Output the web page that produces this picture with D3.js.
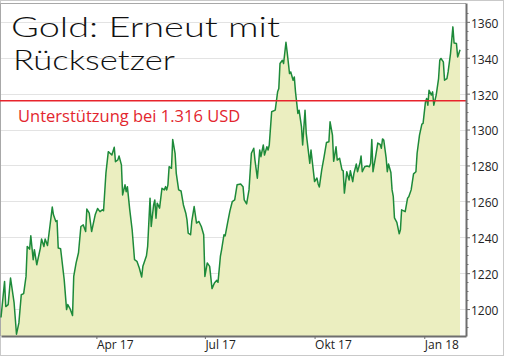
<!DOCTYPE html>
<html>
<head>
<meta charset="utf-8">
<script src="https://cdn.jsdelivr.net/npm/d3@7"></script>
<style>
  body { margin: 0; background: #fff; }
  svg { display: block; }
</style>
</head>
<body>
<div class="chart"></div>
<script>
// gold price, daily-ish closes
const dates = [
  "2017-01-11","2017-01-14","2017-01-15","2017-01-17","2017-01-19","2017-01-22","2017-01-24","2017-01-26","2017-01-28","2017-01-30",
  "2017-02-01","2017-02-02","2017-02-04","2017-02-05","2017-02-07","2017-02-08","2017-02-10","2017-02-13","2017-02-14","2017-02-16",
  "2017-02-17","2017-02-19","2017-02-21","2017-02-23","2017-02-24","2017-02-26","2017-02-27","2017-02-28","2017-03-02","2017-03-05",
  "2017-03-07","2017-03-08","2017-03-10","2017-03-12","2017-03-13","2017-03-15","2017-03-17","2017-03-19","2017-03-21","2017-03-23",
  "2017-03-24","2017-03-26","2017-03-28","2017-03-31","2017-04-02","2017-04-04","2017-04-06","2017-04-07","2017-04-09","2017-04-11",
  "2017-04-12","2017-04-14","2017-04-16","2017-04-17","2017-04-19","2017-04-20","2017-04-22","2017-04-23","2017-04-25","2017-04-26",
  "2017-04-27","2017-04-29","2017-05-01","2017-05-03","2017-05-05","2017-05-07","2017-05-09","2017-05-10","2017-05-13","2017-05-14",
  "2017-05-16","2017-05-17","2017-05-19","2017-05-20","2017-05-21","2017-05-22","2017-05-24","2017-05-26","2017-05-28","2017-05-29",
  "2017-05-30","2017-05-31","2017-06-01","2017-06-03","2017-06-04","2017-06-06","2017-06-07","2017-06-09","2017-06-11","2017-06-13",
  "2017-06-15","2017-06-16","2017-06-17","2017-06-19","2017-06-20","2017-06-22","2017-06-24","2017-06-26","2017-06-28","2017-06-30",
  "2017-07-01","2017-07-03","2017-07-05","2017-07-07","2017-07-09","2017-07-11","2017-07-12","2017-07-14","2017-07-15","2017-07-17",
  "2017-07-18","2017-07-20","2017-07-22","2017-07-24","2017-07-26","2017-07-28","2017-07-31","2017-08-02","2017-08-03","2017-08-05",
  "2017-08-07","2017-08-09","2017-08-11","2017-08-12","2017-08-14","2017-08-16","2017-08-17","2017-08-19","2017-08-20","2017-08-22",
  "2017-08-23","2017-08-24","2017-08-26","2017-08-29","2017-08-31","2017-09-01","2017-09-02","2017-09-04","2017-09-05","2017-09-07",
  "2017-09-08","2017-09-10","2017-09-11","2017-09-13","2017-09-14","2017-09-15","2017-09-17","2017-09-18","2017-09-20","2017-09-21",
  "2017-09-23","2017-09-24","2017-09-27","2017-09-28","2017-10-01","2017-10-03","2017-10-04","2017-10-05","2017-10-07","2017-10-09",
  "2017-10-11","2017-10-13","2017-10-14","2017-10-16","2017-10-17","2017-10-19","2017-10-20","2017-10-22","2017-10-24","2017-10-25",
  "2017-10-26","2017-10-28","2017-10-30","2017-10-31","2017-11-02","2017-11-03","2017-11-05","2017-11-06","2017-11-08","2017-11-09",
  "2017-11-10","2017-11-12","2017-11-14","2017-11-16","2017-11-17","2017-11-18","2017-11-19","2017-11-21","2017-11-23","2017-11-25",
  "2017-11-26","2017-11-27","2017-11-28","2017-11-30","2017-12-01","2017-12-02","2017-12-04","2017-12-05","2017-12-06","2017-12-07",
  "2017-12-09","2017-12-11","2017-12-12","2017-12-13","2017-12-16","2017-12-18","2017-12-19","2017-12-21","2017-12-23","2017-12-25",
  "2017-12-26","2017-12-28","2017-12-30","2017-12-31","2018-01-02","2018-01-03","2018-01-04","2018-01-05","2018-01-07","2018-01-08",
  "2018-01-09","2018-01-11","2018-01-13","2018-01-14","2018-01-15","2018-01-17","2018-01-18","2018-01-20","2018-01-21","2018-01-23",
  "2018-01-25","2018-01-26","2018-01-28","2018-01-29","2018-01-31"
];
const prices = [
  1195.3,1215.4,1201.4,1202.5,1217.3,1203.4,1186.0,1192.3,1208.0,1208.6,
  1218.2,1234.9,1233.4,1240.8,1227.5,1233.1,1224.7,1234.0,1239.0,1234.9,
  1239.0,1235.4,1246.0,1256.8,1252.5,1248.8,1249.3,1234.0,1233.6,1216.4,
  1199.7,1202.5,1200.1,1196.4,1218.2,1225.7,1231.4,1246.0,1246.9,1243.2,
  1255.7,1253.4,1243.2,1252.5,1256.0,1254.3,1255.3,1254.8,1275.7,1287.7,
  1287.1,1285.8,1290.1,1282.1,1283.1,1285.3,1280.3,1263.6,1269.2,1265.4,
  1268.2,1255.3,1244.2,1227.5,1226.6,1222.9,1217.9,1223.8,1229.7,1234.9,
  1261.8,1246.0,1258.0,1260.8,1250.6,1259.0,1256.2,1267.3,1266.4,1268.2,
  1266.4,1269.2,1279.3,1278.4,1294.5,1286.8,1275.6,1266.4,1265.8,1258.0,
  1253.4,1249.7,1242.3,1241.4,1248.8,1257.1,1247.9,1248.8,1246.0,1241.4,
  1218.2,1225.7,1223.8,1211.4,1214.5,1216.0,1214.9,1229.3,1233.0,1241.4,
  1240.8,1247.9,1254.7,1259.9,1260.8,1269.2,1269.7,1268.2,1260.8,1258.6,
  1266.4,1286.8,1289.6,1283.0,1272.9,1288.6,1284.9,1291.4,1285.8,1290.4,
  1288.6,1291.4,1309.9,1310.8,1321.0,1322.9,1336.8,1338.6,1336.8,1348.6,
  1343.2,1331.2,1332.1,1327.5,1329.3,1321.0,1309.0,1310.8,1301.6,1291.4,
  1310.8,1297.9,1281.2,1288.6,1271.0,1273.0,1269.7,1268.0,1277.5,1284.9,
  1292.8,1293.2,1304.3,1296.9,1282.3,1290.4,1283.0,1284.0,1277.5,1277.0,
  1264.6,1276.5,1271.9,1277.1,1271.0,1275.6,1280.8,1276.5,1281.2,1285.3,
  1276.5,1279.3,1279.7,1279.3,1281.2,1294.5,1276.5,1284.2,1292.5,1291.7,
  1289.6,1294.8,1294.2,1284.4,1276.5,1280.8,1276.1,1266.4,1262.8,1250.8,
  1248.3,1241.9,1244.2,1255.3,1254.3,1261.8,1262.6,1266.4,1275.3,1276.5,
  1286.8,1296.9,1303.0,1303.4,1315.4,1317.3,1313.6,1321.9,1319.2,1321.0,
  1313.6,1319.2,1328.4,1338.6,1339.6,1337.7,1327.5,1328.4,1332.1,1342.3,
  1357.2,1348.2,1347.9,1340.4,1344.4
];
const yTicks = [1200, 1220, 1240, 1260, 1280, 1300, 1320, 1340, 1360];
const xTickDates = ["2017-04-01", "2017-07-01", "2017-10-01", "2018-01-01"];
const xTickLabels = ["Apr 17", "Jul 17", "Okt 17", "Jan 18"];
const support = 1316;
const supportLabel = "Unterstützung bei 1.316 USD";
const titleLines = ["Gold: Erneut mit", "Rücksetzer"];

const W = 506, H = 357;
const plot = {left: 1, right: 466, top: 3, bottom: 336};

const parse = d3.timeParse("%Y-%m-%d");
const data = dates.map((d, i) => ({date: parse(d), value: prices[i]}));

const svg = d3.select(".chart").append("svg")
    .attr("width", W)
    .attr("height", H);

// outer frame
svg.append("rect")
    .attr("x", 0.5).attr("y", 0.5)
    .attr("width", 503).attr("height", 355)
    .attr("fill", "#fff")
    .attr("stroke", "#c9c9c9");

const x = d3.scaleTime()
    .domain([parse("2017-01-11"), parse("2018-02-05")])
    .range([plot.left, plot.right]);
const y = d3.scaleLinear()
    .domain([1185, 1370.5])
    .range([plot.bottom, plot.top]);

// plot frame (top + left)
svg.append("path")
    .attr("d", `M${plot.left - 0.5},${plot.bottom}V${plot.top + 0.5}H${plot.right}`)
    .attr("fill", "none")
    .attr("stroke", "#a8a8a8");

// gridlines
svg.append("g").selectAll("line")
    .data(yTicks)
    .join("line")
    .attr("x1", plot.left).attr("x2", plot.right)
    .attr("y1", d => Math.round(y(d)) + 0.5)
    .attr("y2", d => Math.round(y(d)) + 0.5)
    .attr("stroke", "#e3e3e3");

// area + line
const area = d3.area()
    .x(d => x(d.date))
    .y0(plot.bottom)
    .y1(d => y(d.value));
const line = d3.line()
    .x(d => x(d.date))
    .y(d => y(d.value));

svg.append("path").datum(data)
    .attr("d", area)
    .attr("fill", "#ebeec0");
svg.append("path").datum(data)
    .attr("d", line)
    .attr("fill", "none")
    .attr("stroke", "#1d8a3a")
    .attr("stroke-width", 1.5)
    .attr("stroke-linejoin", "round");

// support line
svg.append("line")
    .attr("x1", 0).attr("x2", plot.right)
    .attr("y1", y(support)).attr("y2", y(support))
    .attr("stroke", "#e8242c")
    .attr("stroke-width", 1.5);
svg.append("text")
    .attr("x", 18).attr("y", 122)
    .attr("fill", "#e3262e")
    .style("font-family", "'Open Sans', 'Noto Sans', sans-serif")
    .style("font-size", "16.5px")
    .text(supportLabel);

// minor ticks on the right axis
svg.append("g").selectAll("line")
    .data(d3.range(1190, 1370, 5).filter(v => v % 20 !== 0))
    .join("line")
    .attr("x1", plot.right).attr("x2", plot.right + 2.5)
    .attr("y1", d => Math.round(y(d)) + 0.5)
    .attr("y2", d => Math.round(y(d)) + 0.5)
    .attr("stroke", "#777");

// y axis
const yAxis = d3.axisRight(y)
    .tickValues(yTicks)
    .tickSize(4)
    .tickSizeOuter(0)
    .tickPadding(1)
    .tickFormat(d3.format("d"));
const yAxisG = svg.append("g")
    .attr("transform", `translate(${plot.right},0)`)
    .call(yAxis);
yAxisG.select(".domain").attr("stroke", "#6e6e6e").attr("stroke-width", 2);
yAxisG.selectAll(".tick line").attr("stroke", "#6e6e6e");
yAxisG.selectAll("text")
    .attr("dy", "0.45em")
    .attr("fill", "#222")
    .style("font-family", "'Open Sans', sans-serif")
    .style("font-size", "12px");

// x axis
const xAxis = d3.axisBottom(x)
    .tickValues(xTickDates.map(parse))
    .tickSize(3)
    .tickSizeOuter(0)
    .tickFormat((d, i) => xTickLabels[i]);
const xAxisG = svg.append("g")
    .attr("transform", `translate(0,${plot.bottom})`)
    .call(xAxis);
xAxisG.select(".domain").attr("stroke", "#6e6e6e").attr("stroke-width", 2);
xAxisG.selectAll(".tick line").attr("stroke", "#6e6e6e");
xAxisG.selectAll("text")
    .attr("text-anchor", "start")
    .attr("x", 0)
    .attr("y", 13)
    .attr("dy", null)
    .attr("fill", "#222")
    .style("font-family", "'Open Sans', sans-serif")
    .style("font-size", "12px");

// title
svg.append("text")
    .attr("x", 11).attr("y", 37)
    .attr("textLength", 269)
    .attr("lengthAdjust", "spacingAndGlyphs")
    .style("font-family", "'Segoe Print', 'Comic Sans MS', 'Lato', sans-serif")
    .style("font-weight", 300)
    .style("font-size", "27px")
    .attr("fill", "#111")
    .text(titleLines[0]);
svg.append("text")
    .attr("x", 13).attr("y", 70)
    .attr("textLength", 162)
    .attr("lengthAdjust", "spacingAndGlyphs")
    .style("font-family", "'Segoe Print', 'Comic Sans MS', 'Lato', sans-serif")
    .style("font-weight", 300)
    .style("font-size", "27px")
    .attr("fill", "#111")
    .text(titleLines[1]);
</script>
</body>
</html>
